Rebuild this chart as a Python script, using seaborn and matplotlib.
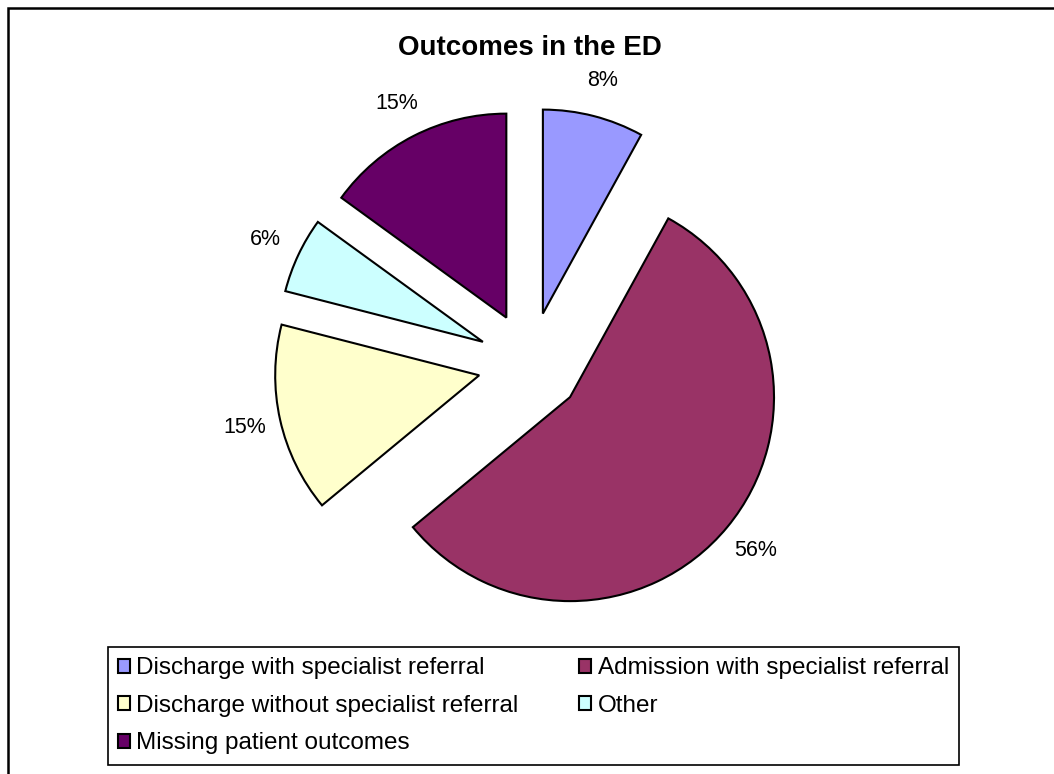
import matplotlib.pyplot as plt
import seaborn as sns
from matplotlib.patches import Rectangle

# data
categories = [
    "Discharge with specialist referral",
    "Admission with specialist referral",
    "Discharge without specialist referral",
    "Other",
    "Missing patient outcomes",
]
shares = [8, 56, 15, 6, 15]
colors = ["#9999FF", "#993366", "#FFFFCC", "#CCFFFF", "#660066"]

sns.set_style("white")
plt.rcParams["font.family"] = ["Liberation Sans", "DejaVu Sans"]
plt.rcParams["text.color"] = "black"

fig = plt.figure(figsize=(10.54, 7.74), dpi=100)
ax = fig.add_axes([0.2125, 0.1344, 0.5806, 0.7907])

wedges, texts, autotexts = ax.pie(
    shares,
    colors=colors,
    startangle=90,
    counterclock=False,
    explode=[0.255] * len(shares),
    autopct="%1.0f%%",
    pctdistance=1.18,
    wedgeprops=dict(edgecolor="black", linewidth=1.5),
    textprops=dict(fontsize=15.5, color="black"),
)
ax.set_xlim(-1.5, 1.5)
ax.set_ylim(-1.5, 1.5)
ax.axis("off")

fig.text(530 / 1054, 1 - 48 / 774, "Outcomes in the ED", ha="center", va="center",
         fontsize=20, fontweight="bold", color="black")

# legend filled row by row like the original
order = [0, 2, 4, 1, 3]
leg_top = 1 - 647 / 774
leg = fig.legend(
    [wedges[i] for i in order],
    [categories[i] for i in order],
    ncol=2,
    loc="upper left",
    mode="expand",
    bbox_to_anchor=(108 / 1054, leg_top - 0.1, (959 - 108) / 1054, 0.1),
    frameon=True,
    fancybox=False,
    edgecolor="black",
    fontsize=17.5,
    handlelength=0.5,
    handleheight=0.5,
    handletextpad=0.25,
    columnspacing=0.6,
    labelspacing=0.64,
    borderpad=0.42,
    borderaxespad=0,
)
for t in leg.get_texts():
    t.set_color("black")
leg.get_frame().set_linewidth(1.2)
leg.get_frame().set_alpha(1)

# outer chart border (only top and left visible)
fig.add_artist(Rectangle((8 / 1054, -0.05), 1.1, 1 - 8 / 774 + 0.05,
                         transform=fig.transFigure, fill=False,
                         edgecolor="black", linewidth=1.8))

fig.savefig("out.png", dpi=100)
